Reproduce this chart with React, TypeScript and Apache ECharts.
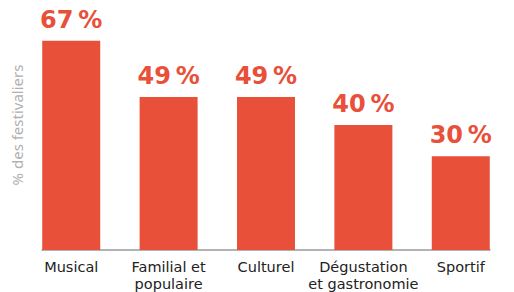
import React, { useEffect, useRef } from "react";
import * as echarts from "echarts";

const categories = ["Musical", "Familial et\npopulaire", "Culturel", "Dégustation\net gastronomie", "Sportif"];
const values = [67, 49, 49, 40, 30];
const yAxisName = "% des festivaliers";

const RED = "#E8503A";

export default function App() {
  const ref = useRef<HTMLDivElement>(null);
  useEffect(() => {
    if (!ref.current) return;
    const chart = echarts.init(ref.current, undefined, { renderer: "svg" });
    chart.setOption({
      animation: false,
      grid: { left: 42, right: 24, top: 0, bottom: 42, containLabel: false },
      xAxis: {
        type: "value",
        min: -0.3,
        max: 4.3,
        splitLine: { show: false },
        axisTick: { show: false },
        axisLine: { show: true, onZero: false, lineStyle: { color: "#9a9a9a", width: 1.5 } },
        axisLabel: {
          customValues: [0, 1, 2, 3, 4],
          formatter: (v: number) => categories[Math.round(v)] ?? "",
          color: "#222",
          fontFamily: "DejaVu Sans",
          fontSize: 14.5,
          lineHeight: 17,
          margin: 8,
          verticalAlign: "top",
        },
      },
      yAxis: {
        type: "value",
        min: 0,
        max: 80,
        axisLine: { show: false },
        axisTick: { show: false },
        axisLabel: { show: false },
        splitLine: { show: false },
        name: yAxisName,
        nameLocation: "middle",
        nameGap: 18,
        nameRotate: 90,
        nameTextStyle: { color: "#b0b0b0", fontFamily: "Noto Sans", fontSize: 15 },
      },
      series: [
        {
          type: "bar",
          data: values.map((v, i) => [i, v]),
          barWidth: 58,
          itemStyle: { color: RED },
          label: {
            show: true,
            position: "top",
            distance: 9,
            formatter: (p: any) => `${p.value[1]}\u2009%`,
            color: RED,
            fontFamily: "DejaVu Sans",
            fontWeight: "bold",
            fontSize: 24,
          },
        },
      ],
    });
    return () => chart.dispose();
  }, []);
  return <div ref={ref} style={{ width: 514, height: 292, position: "fixed", left: 0, top: 0, background: "#fff" }} />;
}
